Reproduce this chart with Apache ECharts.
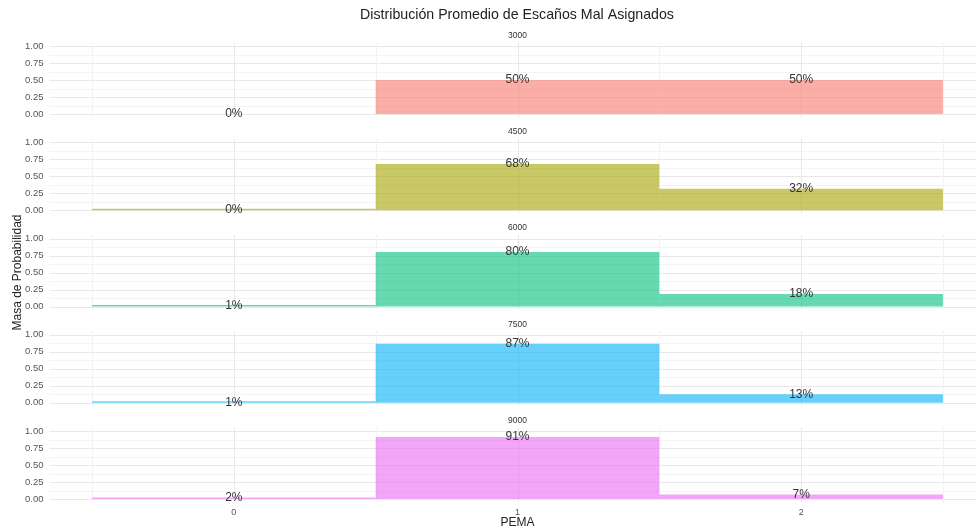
<!DOCTYPE html>
<html>
<head>
<meta charset="utf-8">
<script src="https://cdn.jsdelivr.net/npm/echarts@6/dist/echarts.min.js"></script>
<style>html,body{margin:0;padding:0;background:#fff}#c{width:976px;height:529px}</style>
</head>
<body>
<div id="c"></div>
<script>
// ---- data ----
const chartTitle = 'Distribución Promedio de Escaños Mal Asignados';
const categories = [0, 1, 2];            // PEMA
const xTickLabels = ['0', '1', '2'];
const panels = ['3000', '4500', '6000', '7500', '9000'];
const v3000 = [0.000, 0.500, 0.500];
const v4500 = [0.004, 0.680, 0.316];
const v6000 = [0.012, 0.803, 0.183];
const v7500 = [0.008, 0.867, 0.125];
const v9000 = [0.020, 0.912, 0.068];
const yTicks = [0, 0.25, 0.5, 0.75, 1];
const yMinor = [0.125, 0.375, 0.625, 0.875];
const xMinor = [-0.5, 0.5, 1.5, 2.5];
const colors = ['rgba(248,118,109,0.6)', 'rgba(163,165,0,0.6)', 'rgba(0,191,125,0.6)', 'rgba(0,176,246,0.6)', 'rgba(231,107,243,0.6)'];
const values = [v3000, v4500, v6000, v7500, v9000];

// ---- layout ----
const FONT = '"Liberation Sans", Arial, Helvetica, sans-serif';
const L = 49.5, W = 936, TOP0 = 42.6, STEP = 96.25, H = 74.8;

const grids = [], xAxes = [], yAxes = [], series = [], graphics = [];
graphics.push({type: 'text', x: 517, y: 15.5, style: {text: chartTitle, textAlign: 'center', align: 'center', textVerticalAlign: 'middle', verticalAlign: 'middle', font: '14.2px ' + FONT, fill: '#222'}});

panels.forEach((p, i) => {
  const top = TOP0 + i * STEP;
  grids.push({left: L, top: top, width: W, height: H, containLabel: false, outerBoundsMode: 'none'});
  const last = i === panels.length - 1;
  xAxes.push({
    type: 'value', gridIndex: i, min: -0.65, max: 2.65,
    axisLine: {show: false}, axisTick: {show: false}, splitLine: {show: false},
    axisLabel: last ? {show: true, customValues: categories, formatter: v => xTickLabels[categories.indexOf(Math.round(v))], color: '#555', fontSize: 9, fontFamily: FONT, margin: 6} : {show: false},
    name: last ? 'PEMA' : '', nameLocation: 'middle', nameGap: 14, nameMoveOverlap: false,
    nameTextStyle: {fontSize: 12, color: '#222', fontFamily: FONT}
  });
  yAxes.push({
    type: 'value', gridIndex: i, min: -0.05, max: 1.05,
    axisLine: {show: false}, axisTick: {show: false}, splitLine: {show: false},
    axisLabel: {show: true, customValues: yTicks, formatter: v => v.toFixed(2), color: '#555', fontSize: 9.5, fontFamily: FONT, margin: 6},
    name: i === 2 ? 'Masa de Probabilidad' : '', nameLocation: 'middle', nameGap: 26, nameMoveOverlap: false,
    nameTextStyle: {fontSize: 12, color: '#222', fontFamily: FONT}
  });
  graphics.push({type: 'text', x: 517.5, y: top - 7, style: {text: p, textAlign: 'center', align: 'center', textVerticalAlign: 'middle', verticalAlign: 'middle', font: '8.5px ' + FONT, fill: '#333'}});

  // gridlines
  const gl = [];
  yTicks.forEach(v => gl.push([0, v, 1]));
  yMinor.forEach(v => gl.push([0, v, 0]));
  categories.forEach(v => gl.push([1, v, 1]));
  xMinor.forEach(v => gl.push([1, v, 0]));
  series.push({
    type: 'custom', xAxisIndex: i, yAxisIndex: i, z: 1, silent: true, animation: false,
    data: gl,
    renderItem: (params, api) => {
      const cs = params.coordSys;
      const orient = api.value(0), v = api.value(1), major = api.value(2);
      const style = {stroke: major ? '#e8e8e8' : '#f3f3f3', lineWidth: 1};
      if (orient === 0) {
        const y = Math.round(api.coord([0, v])[1]) + 0.5;
        return {type: 'line', shape: {x1: cs.x, y1: y, x2: cs.x + cs.width, y2: y}, style};
      }
      const x = Math.round(api.coord([v, 0])[0]) + 0.5;
      return {type: 'line', shape: {x1: x, y1: cs.y, x2: x, y2: cs.y + cs.height}, style};
    }
  });
  // bars
  const data = categories.map((c, k) => [c, values[i][k]]);
  series.push({
    type: 'custom', xAxisIndex: i, yAxisIndex: i, z: 2, silent: true, animation: false,
    data: data,
    renderItem: (params, api) => {
      const c = api.value(0), v = api.value(1);
      if (v <= 0) return null;
      const p0 = api.coord([c - 0.5, 0]);
      const p1 = api.coord([c + 0.5, v]);
      const h = Math.max(1.6, p0[1] - p1[1]);
      return {type: 'rect', shape: {x: p0[0], y: p0[1] - h, width: p1[0] - p0[0], height: h},
        style: {fill: colors[i]}};
    }
  });
  // labels
  series.push({
    type: 'custom', xAxisIndex: i, yAxisIndex: i, z: 3, silent: true, animation: false,
    data: data,
    renderItem: (params, api) => {
      const c = api.value(0), v = api.value(1);
      const pt = api.coord([c, v]);
      return {type: 'text', x: pt[0], y: pt[1], style: {text: Math.round(v * 100) + '%', align: 'center', verticalAlign: 'middle', font: '12px ' + FONT, fill: '#333'}};
    }
  });
});

const chart = echarts.init(document.getElementById('c'), null, {renderer: 'canvas'});
chart.setOption({
  animation: false,
  backgroundColor: '#fff',
  grid: grids, xAxis: xAxes, yAxis: yAxes, series: series, graphic: graphics
});
</script>
</body>
</html>
